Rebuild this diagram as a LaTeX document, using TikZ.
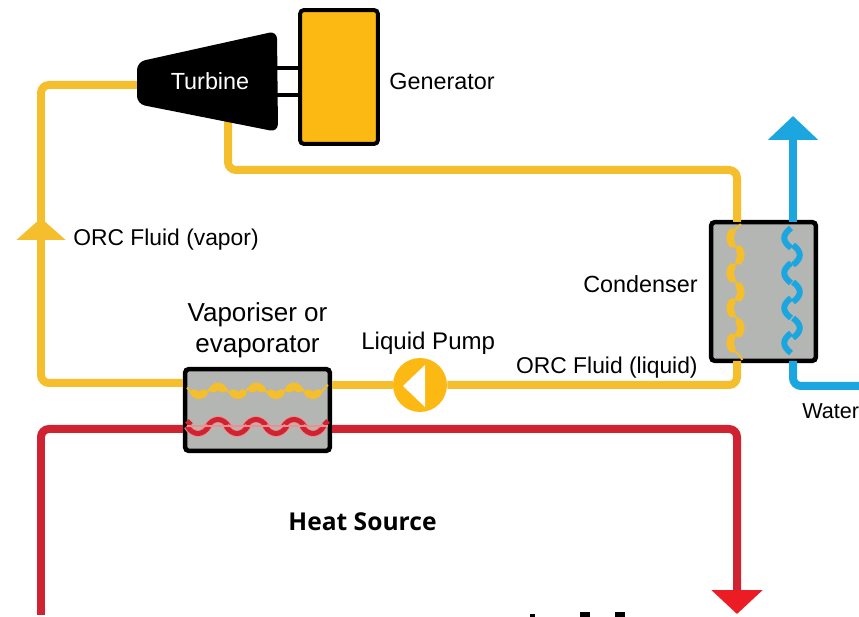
\documentclass[tikz,border=0pt]{standalone}
\usepackage{fontspec}
\setmainfont{Liberation Sans}
\newfontfamily\heatfont{Open Sans}
\usetikzlibrary{arrows.meta}
\definecolor{orcyellow}{HTML}{F4BE2C}
\definecolor{genyellow}{HTML}{FDB913}
\definecolor{heatred}{HTML}{CF2331}
\definecolor{headred}{HTML}{EC1C24}
\definecolor{halored}{HTML}{EE8F8F}
\definecolor{waterblue}{HTML}{1CA6DF}
\definecolor{boxgray}{HTML}{B4B6B4}
\tikzset{
  orcline/.style={orcyellow, line width=0.16cm, rounded corners=0.16cm},
  heatline/.style={heatred, line width=0.16cm, rounded corners=0.16cm},
  waterline/.style={waterblue, line width=0.16cm, rounded corners=0.16cm},
  exchanger/.style={draw=black, fill=boxgray, line width=0.09cm, rounded corners=0.08cm},
  label/.style={font=\fontsize{13.3}{16}\selectfont, inner sep=0pt},
  biglabel/.style={font=\fontsize{14.8}{16}\selectfont, inner sep=0pt},
  orcwave/.style={orcyellow, line width=0.15cm, line cap=round},
  thinwave/.style={line width=0.04cm, samples=80, smooth},
  waterwave/.style={waterblue, line width=0.12cm},
  heatwave/.style={heatred, line width=0.1cm},
  halowave/.style={halored, line width=0.14cm},
}
\begin{document}
\begin{tikzpicture}[x=0.02cm,y=-0.02cm]
  \useasboundingbox (0,0) rectangle (859,617);
  \clip (0,0) rectangle (859,617);

  % equipment
  \node [draw=black, fill=genyellow, line width=0.08cm, rounded corners=0.08cm,
         minimum width=1.56cm, minimum height=2.68cm] (generator) at (339,77) {};
  \node [exchanger, minimum width=2.9cm, minimum height=1.64cm] (vaporiser) at (257.5,410) {};
  \node [exchanger, minimum width=2.1cm, minimum height=2.78cm] (condenser) at (763.5,291.5) {};
  \node [circle, fill=genyellow, minimum size=1.08cm, inner sep=0pt] (pump) at (420,385) {};

  % ends of the lines
  \coordinate (turbinein) at (150,85);
  \coordinate (turbineout) at (228,120);
  \coordinate (orcleft) at (41,85);
  \coordinate (orcarrow) at (41,218);
  \coordinate (condin) at (737,222);
  \coordinate (condout) at (737,361);
  \coordinate (waterout) at (793,361);
  \coordinate (watertop) at (793,222);
  \coordinate (watertip) at (793,116);
  \coordinate (waterin) at (880,386);
  \coordinate (heatin) at (41,615);
  \coordinate (heattip) at (737,614);

  % ORC loop
  \draw [orcline] (turbinein) -- (orcleft) -- (41,383) -- (vaporiser.west |- 0,383);
  \draw [orcline, -{Triangle[width=0.96cm,length=0.44cm]}] (41,260) -- (orcarrow);
  \draw [orcline] (vaporiser.east |- pump) -- (pump);
  \draw [orcline] (pump) -- (737,385) -- (condout);
  \draw [orcline] (turbineout) -- (228,170) -- (737,170) -- (condin);

  % water
  \draw [waterline] (waterin) -- (793,386) -- (waterout);
  \draw [waterline, -{Triangle[width=0.98cm,length=0.48cm]}] (watertop) -- (watertip);

  % heat source
  \draw [heatline] (heatin) -- (41,429) -- (vaporiser.west |- 0,429);
  \draw [heatline, -{Triangle[width=1cm,length=0.48cm,color=headred]}]
    (vaporiser.east |- 0,429) -- (737,429) -- (heattip);

  % turbine
  \draw [black, line width=0.08cm] (277,68) -- (generator.west |- 0,68);
  \draw [black, line width=0.08cm] (277,95) -- (generator.west |- 0,95);
  \fill [black, rounded corners=0.16cm] (137,62) -- (277,31) -- (278,132) -- (137,104) -- cycle;
  \node [label, white] (turbine) at (210,81) {Turbine};

  % pump triangle
  \fill [white] (403,386) -- (425,365) -- (425,407) -- cycle;

  % coils of the vaporiser
  \draw [orcyellow, thinwave, domain=187:328]
    plot (\x,{390.5-7*cos((\x-218)/38*360)});
  \foreach \wx in {218,257,294} {
    \draw [orcwave] (\wx-5,389) .. controls (\wx-2,386) and (\wx+2,386) .. (\wx+5,389);
  }
  \foreach \wx in {199,238,276,313} {
    \draw [orcwave] (\wx-5,393) .. controls (\wx-2,396) and (\wx+2,396) .. (\wx+5,393);
  }
  \foreach \wx in {218,256,294} {
    \draw [halowave] (\wx-11,427) .. controls (\wx-5,417) and (\wx+5,417) .. (\wx+11,427);
    \draw [heatwave] (\wx-11,427) .. controls (\wx-5,417) and (\wx+5,417) .. (\wx+11,427);
  }
  \foreach \wx in {198,237,276,313} {
    \draw [halowave] (\wx-11,426) .. controls (\wx-5,436) and (\wx+5,436) .. (\wx+11,426);
    \draw [heatwave] (\wx-11,426) .. controls (\wx-5,436) and (\wx+5,436) .. (\wx+11,426);
  }
  \draw [heatwave] (187,421) -- (191,425);
  \draw [heatwave] (328,421) -- (324,425);
  \draw [halored, line width=0.03cm] (187,426) -- (328,426);

  % coils of the condenser
  \draw [orcyellow, thinwave, domain=224:360]
    plot ({735.5-6.5*cos((\x-238)/35*360)},\x);
  \foreach \wy in {238,273,308,343} {
    \draw [orcwave] (732,\wy-6) .. controls (729.5,\wy-2) and (729.5,\wy+2) .. (732,\wy+6);
  }
  \foreach \wy in {255,292,328} {
    \draw [orcwave] (739,\wy-6) .. controls (741.5,\wy-2) and (741.5,\wy+2) .. (739,\wy+6);
  }
  \foreach \wy in {238,273,308,343} {
    \draw [waterwave] (791,\wy-10) .. controls (782,\wy-3) and (782,\wy+3) .. (791,\wy+10);
  }
  \foreach \wy in {255,292,328} {
    \draw [waterwave] (793,\wy-10) .. controls (802,\wy-3) and (802,\wy+3) .. (793,\wy+10);
  }

  % labels
  \node [label, anchor=west] (generatortext) at (389,81) {Generator};
  \node [label, font=\fontsize{13}{16}\selectfont, anchor=west] (vaportext) at (73,240) {ORC Fluid (vapor)};
  \node [label, anchor=east] (condensertext) at (698,284) {Condenser};
  \node [biglabel] (vaporisertext) at (257.5,315) {Vaporiser or};
  \node [biglabel] (evaporatortext) at (257.5,347) {evaporator};
  \node [label, font=\fontsize{13.7}{16}\selectfont, anchor=west] (pumptext) at (361,343) {Liquid Pump};
  \node [label, font=\fontsize{13}{16}\selectfont, anchor=east] (liquidtext) at (698,368) {ORC Fluid (liquid)};
  \node [label, font=\fontsize{12.3}{16}\selectfont, anchor=west] (watertext) at (802,411) {Water};
  \node [font=\heatfont\bfseries\fontsize{14}{16}\selectfont, inner sep=0pt] (heattext) at (362.5,522) {Heat Source};

  % cut off letters at the bottom edge
  \fill [black] (530,614) rectangle (535,617);
  \fill [black] (580,612) rectangle (590,617);
  \fill [black] (615,612) rectangle (625,617);
\end{tikzpicture}
\end{document}
